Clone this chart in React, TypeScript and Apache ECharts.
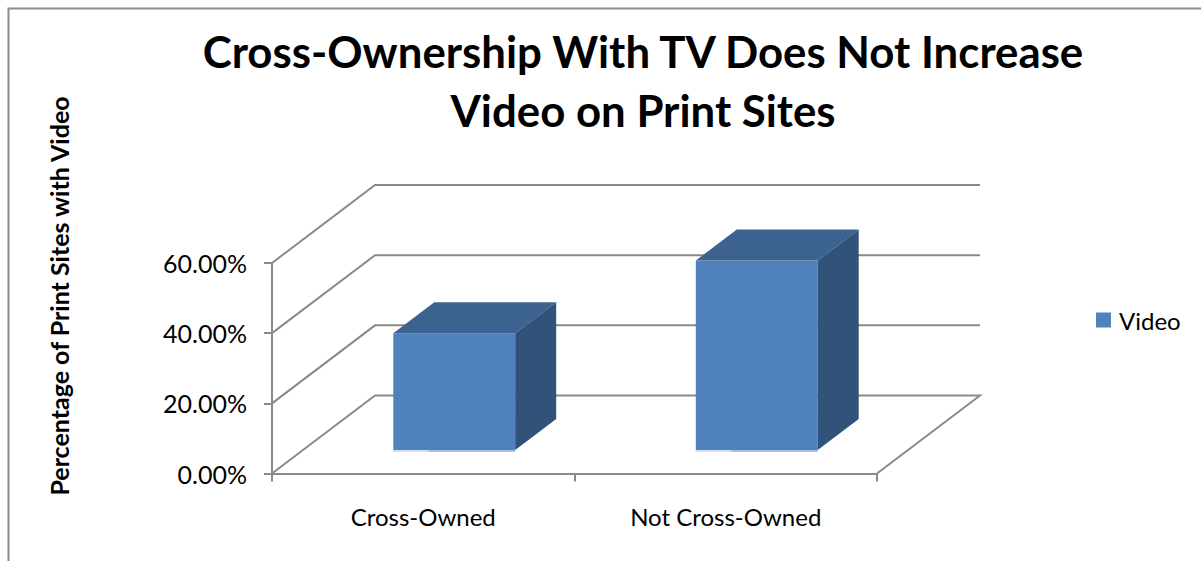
import React, { useEffect, useRef } from "react";
import * as echarts from "echarts";

const titleText = "Cross-Ownership With TV Does Not Increase\nVideo on Print Sites";
const yAxisTitle = "Percentage of Print Sites with Video";
const categories = ["Cross-Owned", "Not Cross-Owned"];
const seriesName = "Video";
const videoValues = [0.333, 0.54];
const wallLevels = [0, 0.2, 0.4, 0.6];

const FONT = "Lato";
const LINE = "#8a8a8a";
const WALL_DX = 103;
const WALL_DY = 78;
const BAR_DX = 41;
const BAR_DY = 31;
const BAR_SHIFT_X = 31;
const BAR_SHIFT_Y = 23.5;
const BAR_RATIO = 0.403;

function renderWall(_params: any, api: any) {
  const v = api.value(1);
  const band = api.size([1, 0])[0];
  const [cx0, y] = api.coord([0, v]);
  const cx1 = api.coord([1, v])[0];
  const left = cx0 - band / 2;
  const right = cx1 + band / 2;
  const pts = [
    [left, y],
    [left + WALL_DX, y - WALL_DY],
    [right + WALL_DX, y - WALL_DY],
  ];
  if (v === 0) pts.push([right, y]);
  return {
    type: "polyline",
    shape: { points: pts },
    style: { stroke: LINE, lineWidth: 2, fill: "none" },
  };
}

function renderBar(_params: any, api: any) {
  const band = api.size([1, 0])[0];
  const w = band * BAR_RATIO;
  const top = api.coord([api.value(0), api.value(1)]);
  const base = api.coord([api.value(0), 0]);
  const x0 = top[0] - w / 2 + BAR_SHIFT_X;
  const x1 = x0 + w;
  const yT = top[1] - BAR_SHIFT_Y;
  const yB = base[1] - BAR_SHIFT_Y;
  return {
    type: "group",
    children: [
      {
        type: "rect",
        shape: { x: x0, y: yB, width: w, height: 2 },
        style: { fill: "#a9c1e1" },
      },
      {
        type: "rect",
        shape: { x: x0, y: yB, width: w * 0.29, height: 2 },
        style: { fill: "#d3dff0" },
      },
      {
        type: "rect",
        shape: { x: x0, y: yT, width: w, height: yB - yT },
        style: { fill: "#4f81bd" },
      },
      {
        type: "polygon",
        shape: {
          points: [
            [x0, yT],
            [x0 + BAR_DX, yT - BAR_DY],
            [x1 + BAR_DX, yT - BAR_DY],
            [x1, yT],
          ],
        },
        style: { fill: "#3c628f" },
      },
      {
        type: "polygon",
        shape: {
          points: [
            [x1, yT],
            [x1 + BAR_DX, yT - BAR_DY],
            [x1 + BAR_DX, yB - BAR_DY],
            [x1, yB],
          ],
        },
        style: { fill: "#325379" },
      },
    ],
  };
}

export default function App() {
  const ref = useRef<HTMLDivElement>(null);
  useEffect(() => {
    document.body.style.margin = "0";
    const chart = echarts.init(ref.current!, null, { renderer: "svg" });
    chart.setOption({
      animation: false,
      backgroundColor: "#ffffff",
      title: {
        text: titleText,
        left: 638,
        top: 17,
        textAlign: "center",
        textStyle: {
          fontFamily: FONT,
          fontWeight: "bold",
          fontSize: 43.75,
          lineHeight: 58.5,
          color: "#000000",
        },
      },
      legend: {
        data: [seriesName],
        left: 1096,
        top: 308,
        padding: 0,
        icon: "rect",
        itemWidth: 15,
        itemHeight: 15,
        itemGap: 0,
        textStyle: { fontFamily: FONT, fontSize: 24, color: "#000000", padding: [0, 0, 0, 3] },
      },
      grid: { left: 272, right: 324, top: 263, bottom: 87.5, containLabel: false },
      xAxis: {
        type: "category",
        data: categories,
        axisLine: { show: true, lineStyle: { color: LINE, width: 2 } },
        axisTick: { show: true, length: 8, lineStyle: { color: LINE, width: 2 } },
        axisLabel: { margin: 31, fontFamily: FONT, fontSize: 24, color: "#000000" },
      },
      yAxis: {
        type: "value",
        min: 0,
        max: 0.6,
        interval: 0.2,
        splitLine: { show: false },
        axisLine: { show: true, lineStyle: { color: LINE, width: 2 } },
        axisTick: { show: true, length: 8, lineStyle: { color: LINE, width: 2 } },
        axisLabel: {
          margin: 25,
          fontFamily: FONT,
          fontSize: 25,
          color: "#000000",
          formatter: (v: number) => (v * 100).toFixed(2) + "%",
        },
      },
      graphic: [
        {
          type: "polyline",
          shape: { points: [[1201, 8.5], [8.5, 8.5], [8.5, 561]] },
          style: { stroke: "#8c8c8c", lineWidth: 2, fill: "none" },
          silent: true,
        },
        {
          type: "text",
          x: 59,
          y: 296,
          rotation: Math.PI / 2,
          style: {
            text: yAxisTitle,
            fontFamily: FONT,
            fontWeight: "bold",
            fontSize: 25,
            fill: "#000000",
            align: "center",
            verticalAlign: "middle",
          },
        },
      ],
      series: [
        {
          type: "custom",
          name: "walls",
          renderItem: renderWall,
          data: wallLevels.map((v) => [0, v]),
          clip: false,
          silent: true,
          z: 1,
        },
        {
          type: "custom",
          name: seriesName,
          renderItem: renderBar,
          data: videoValues.map((v, i) => [i, v]),
          itemStyle: { color: "#4f81bd" },
          clip: false,
          z: 3,
        },
      ],
    });
    return () => chart.dispose();
  }, []);
  return <div ref={ref} style={{ width: 1201, height: 561 }} />;
}
